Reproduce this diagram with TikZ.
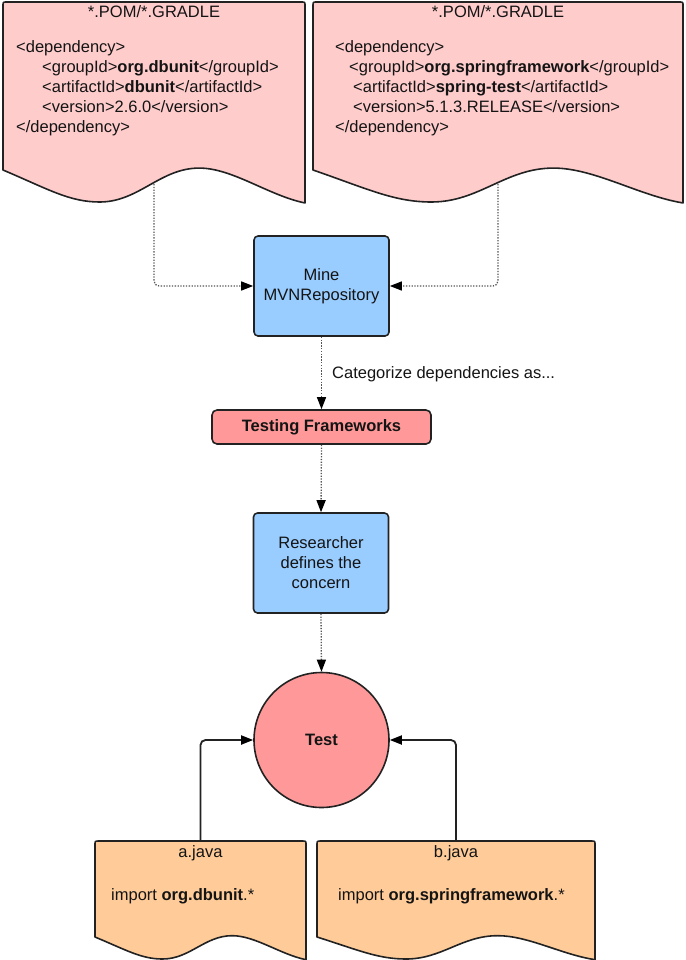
\documentclass[tikz,border=0pt]{standalone}
\usepackage{fontspec}
\setmainfont{Liberation Sans}
\usetikzlibrary{arrows.meta}
\definecolor{pinkA}{HTML}{FFCCCC}
\definecolor{blueA}{HTML}{99CCFF}
\definecolor{redA}{HTML}{FF9999}
\definecolor{orangeA}{HTML}{FFCC99}
\definecolor{textc}{HTML}{141414}
\definecolor{linec}{HTML}{222222}
\definecolor{dotc}{HTML}{555555}

\newcommand\docshape[6]{%
  \pgfmathsetmacro\dL{#2}%
  \pgfmathsetmacro\dT{#3}%
  \pgfmathsetmacro\dR{#4}%
  \pgfmathsetmacro\dY{#5}%
  \pgfmathsetmacro\dA{#6}%
  \pgfmathsetmacro\dW{\dR-\dL}%
  \path[shapeline, fill=#1]
    (\dL,\dY) -- (\dL,{\dT+4}) .. controls (\dL,\dT) .. ({\dL+4},\dT)
    -- ({\dR-4},\dT) .. controls (\dR,\dT) .. (\dR,{\dT+4})
    -- (\dR,{\dY+1.03*\dA})
    .. controls ({\dL+0.88*\dW},{\dY+0.8*\dA}) and ({\dL+0.76*\dW},{\dY-0.06*\dA}) .. ({\dL+0.65*\dW},{\dY-0.06*\dA})
    .. controls ({\dL+0.52*\dW},{\dY-0.06*\dA}) and ({\dL+0.45*\dW},{\dY+\dA}) .. ({\dL+0.32*\dW},{\dY+\dA})
    .. controls ({\dL+0.22*\dW},{\dY+\dA}) and ({\dL+0.15*\dW},{\dY+0.6*\dA}) .. (\dL,\dY)
    -- cycle;
}

\begin{document}
\begin{tikzpicture}[x=1pt,y=-1pt,
  shapeline/.style={draw=linec, line width=1.6pt, line join=round},
  txt/.style={font=\fontsize{16.5}{20}\selectfont, text=textc, inner sep=0pt},
  bluebox/.style={shapeline, fill=blueA, rounded corners=4pt, minimum width=135pt, minimum height=100pt, align=center, txt},
  redbox/.style={shapeline, fill=redA, rounded corners=5pt, minimum width=219pt, minimum height=34pt, txt},
  dotarrow/.style={draw=dotc, line width=1.3pt, dash pattern=on 1.3pt off 1.5pt, rounded corners=5pt, -{Triangle[length=12pt,width=9pt,color=black]}},
  solidarrow/.style={draw=linec, line width=1.8pt, rounded corners=5pt, -{Triangle[length=12pt,width=9pt,color=black]}}
]
\useasboundingbox (0,0) rectangle (685,960);

% document shapes
\docshape{pinkA}{3}{2}{305}{170}{32}
\docshape{pinkA}{313}{2}{683}{170}{32}
\docshape{orangeA}{95}{841}{306}{937}{22}
\docshape{orangeA}{317}{841}{595}{937}{22}

% left POM text
\node[txt, anchor=base] (pomAtitle) at (154,18) {*.POM/*.GRADLE};
\node[txt, anchor=base west] (a1) at (16,53) {<dependency>};
\node[txt, anchor=base west] (a2) at (42,73) {<groupId>\textbf{org.dbunit}</groupId>};
\node[txt, anchor=base west] (a3) at (42,93) {<artifactId>\textbf{dbunit}</artifactId>};
\node[txt, anchor=base west] (a4) at (42,113) {<version>2.6.0</version>};
\node[txt, anchor=base west] (a5) at (16,133) {</dependency>};

% right POM text
\node[txt, anchor=base] (pomBtitle) at (498,18) {*.POM/*.GRADLE};
\node[txt, anchor=base west] (b1) at (335,53) {<dependency>};
\node[txt, anchor=base west] (b2) at (349,73) {<groupId>\textbf{org.springframework}</groupId>};
\node[txt, anchor=base west] (b3) at (353,93) {<artifactId>\textbf{spring-test}</artifactId>};
\node[txt, anchor=base west] (b4) at (353,113) {<version>5.1.3.RELEASE</version>};
\node[txt, anchor=base west] (b5) at (335,133) {</dependency>};

% process nodes
\node[bluebox] (mine) at (321.5,286) {Mine\\MVNRepository};
\node[txt, anchor=base west] (cat) at (332,378) {Categorize dependencies as...};
\node[redbox] (tf) at (321.5,427) {\textbf{Testing Frameworks}};
\node[bluebox] (res) at (321,563) {Researcher\\defines the\\concern};
\node[shapeline, fill=redA, circle, minimum size=135pt, txt] (test) at (321.5,740) {\textbf{Test}};

% java files text
\node[txt, anchor=base] (ajt) at (200.5,857) {a.java};
\node[txt, anchor=base west] (aji) at (111,900) {import \textbf{org.dbunit}.*};
\node[txt, anchor=base] (bjt) at (456,857) {b.java};
\node[txt, anchor=base west] (bji) at (338,900) {import \textbf{org.springframework}.*};

% connector ends
\coordinate (pomAout) at (154,184);
\coordinate (pomBout) at (498,184);
\coordinate (ajtop) at (200.5,841);
\coordinate (bjtop) at (456,841);

% connectors
\draw[dotarrow] (pomAout) |- (mine.west);
\draw[dotarrow] (pomBout) |- (mine.east);
\draw[dotarrow] (mine.south) -- (tf.north);
\draw[dotarrow] (tf.south) -- (res.north);
\draw[dotarrow] (res.south) -- (test.north);
\draw[solidarrow] (ajtop) |- (test.west);
\draw[solidarrow] (bjtop) |- (test.east);
\end{tikzpicture}
\end{document}
